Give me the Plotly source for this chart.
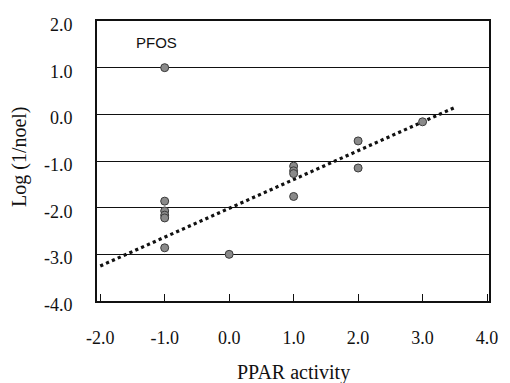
import plotly.graph_objects as go

# Data
ppar_x = [-1, -1, -1, -1, -1, -1, 0, 1, 1, 1, 1, 2, 2, 3]
log_noel = [1.0, -1.86, -2.07, -2.16, -2.22, -2.86, -3.0, -1.11, -1.21, -1.27, -1.76, -0.57, -1.15, -0.16]

trend_x = [-2.0, 3.52]
trend_y = [-3.25, 0.16]

x_ticks = [-2, -1, 0, 1, 2, 3, 4]
x_tick_labels = ["-2.0", "-1.0", "0.0", "1.0", "2.0", "3.0", "4.0"]
y_ticks = [-4, -3, -2, -1, 0, 1, 2]
y_tick_labels = ["-4.0", "-3.0", "-2.0", "-1.0", "0.0", "1.0", "2.0"]

serif = "Liberation Serif, Times New Roman, serif"

fig = go.Figure()
fig.add_trace(go.Scatter(
    x=trend_x, y=trend_y, mode="lines",
    line=dict(color="#111111", width=3.2, dash="dot"),
    showlegend=False, hoverinfo="skip"))
fig.add_trace(go.Scatter(
    x=ppar_x, y=log_noel, mode="markers",
    marker=dict(size=8, color="#8a8a8a", line=dict(color="#3a3a3a", width=1)),
    showlegend=False))

annotations = [
    dict(text="PFOS", x=-1.12, y=1.54, xref="x", yref="y", showarrow=False,
         font=dict(family="Liberation Sans, Arial, sans-serif", size=15, color="#111")),
    dict(text="PPAR activity", x=0.5, y=0, xref="paper", yref="paper", showarrow=False,
         xanchor="center", yanchor="middle", yshift=-71,
         font=dict(family=serif, size=20, color="#111")),
    dict(text="Log (1/noel)", x=0, y=0.5, xref="paper", yref="paper", showarrow=False,
         xanchor="center", yanchor="middle", xshift=-78, yshift=4, textangle=-90,
         font=dict(family=serif, size=20, color="#111")),
]
for v, lab in zip(y_ticks, y_tick_labels):
    annotations.append(dict(text=lab, x=0, y=v, xref="paper", yref="y", showarrow=False,
                            xanchor="right", yanchor="middle", xshift=-22, yshift=-4,
                            font=dict(family=serif, size=18, color="#111")))

fig.update_layout(
    width=510, height=383,
    margin=dict(l=97, r=13, t=21, b=82),
    paper_bgcolor="white", plot_bgcolor="white",
    annotations=annotations,
    xaxis=dict(range=[-2.05, 4.03], tickvals=x_ticks, ticktext=x_tick_labels,
               showgrid=False, zeroline=False, showline=True, linecolor="#111", linewidth=2,
               mirror=True, ticks="inside", ticklen=7, tickwidth=1.2, tickcolor="#111",
               ticklabelstandoff=19,
               tickfont=dict(family=serif, size=18, color="#111")),
    yaxis=dict(range=[-4, 2], tickvals=y_ticks, showticklabels=False,
               showgrid=True, gridcolor="#111", gridwidth=1, zeroline=False,
               showline=True, linecolor="#111", linewidth=2, mirror=True, ticks=""),
)

fig.write_html("out.html")
